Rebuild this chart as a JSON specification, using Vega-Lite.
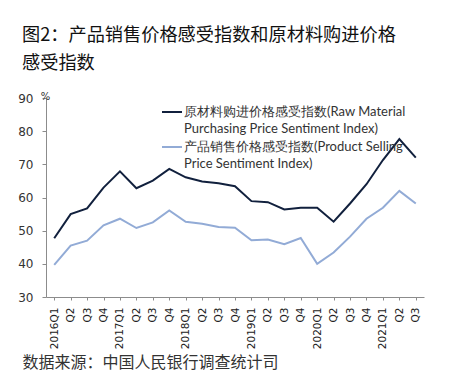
{
  "$schema": "https://vega.github.io/schema/vega-lite/v6.json",
  "width": 378,
  "height": 199,
  "autosize": {"type": "none"},
  "padding": {"left": 46, "top": 98, "right": 25, "bottom": 85},
  "background": "white",
  "title": {
    "text": ["图2：产品销售价格感受指数和原材料购进价格", "感受指数"],
    "anchor": "start",
    "frame": "group",
    "dx": -24,
    "offset": 18,
    "font": "Noto Sans CJK SC",
    "fontSize": 18.2,
    "fontWeight": "normal",
    "color": "#111111",
    "lineHeight": 28
  },
  "config": {
    "view": {"stroke": null},
    "axis": {"domainColor": "#8c8c8c", "tickColor": "#8c8c8c", "grid": false},
    "style": {"guide-label": {"lineHeight": 17}}
  },
  "data": {
    "values": [
      {"q": "2016Q1", "s": "原材料购进价格感受指数(Raw  Material|Purchasing Price Sentiment Index)", "v": 47.7},
      {"q": "2016Q2", "s": "原材料购进价格感受指数(Raw  Material|Purchasing Price Sentiment Index)", "v": 55.0},
      {"q": "2016Q3", "s": "原材料购进价格感受指数(Raw  Material|Purchasing Price Sentiment Index)", "v": 56.7},
      {"q": "2016Q4", "s": "原材料购进价格感受指数(Raw  Material|Purchasing Price Sentiment Index)", "v": 63.0},
      {"q": "2017Q1", "s": "原材料购进价格感受指数(Raw  Material|Purchasing Price Sentiment Index)", "v": 67.9},
      {"q": "2017Q2", "s": "原材料购进价格感受指数(Raw  Material|Purchasing Price Sentiment Index)", "v": 62.8},
      {"q": "2017Q3", "s": "原材料购进价格感受指数(Raw  Material|Purchasing Price Sentiment Index)", "v": 65.1},
      {"q": "2017Q4", "s": "原材料购进价格感受指数(Raw  Material|Purchasing Price Sentiment Index)", "v": 68.6},
      {"q": "2018Q1", "s": "原材料购进价格感受指数(Raw  Material|Purchasing Price Sentiment Index)", "v": 66.1},
      {"q": "2018Q2", "s": "原材料购进价格感受指数(Raw  Material|Purchasing Price Sentiment Index)", "v": 64.8},
      {"q": "2018Q3", "s": "原材料购进价格感受指数(Raw  Material|Purchasing Price Sentiment Index)", "v": 64.3},
      {"q": "2018Q4", "s": "原材料购进价格感受指数(Raw  Material|Purchasing Price Sentiment Index)", "v": 63.4},
      {"q": "2019Q1", "s": "原材料购进价格感受指数(Raw  Material|Purchasing Price Sentiment Index)", "v": 58.9},
      {"q": "2019Q2", "s": "原材料购进价格感受指数(Raw  Material|Purchasing Price Sentiment Index)", "v": 58.6},
      {"q": "2019Q3", "s": "原材料购进价格感受指数(Raw  Material|Purchasing Price Sentiment Index)", "v": 56.4},
      {"q": "2019Q4", "s": "原材料购进价格感受指数(Raw  Material|Purchasing Price Sentiment Index)", "v": 56.9},
      {"q": "2020Q1", "s": "原材料购进价格感受指数(Raw  Material|Purchasing Price Sentiment Index)", "v": 56.9},
      {"q": "2020Q2", "s": "原材料购进价格感受指数(Raw  Material|Purchasing Price Sentiment Index)", "v": 52.7},
      {"q": "2020Q3", "s": "原材料购进价格感受指数(Raw  Material|Purchasing Price Sentiment Index)", "v": 58.2},
      {"q": "2020Q4", "s": "原材料购进价格感受指数(Raw  Material|Purchasing Price Sentiment Index)", "v": 64.0},
      {"q": "2021Q1", "s": "原材料购进价格感受指数(Raw  Material|Purchasing Price Sentiment Index)", "v": 71.3},
      {"q": "2021Q2", "s": "原材料购进价格感受指数(Raw  Material|Purchasing Price Sentiment Index)", "v": 77.6},
      {"q": "2021Q3", "s": "原材料购进价格感受指数(Raw  Material|Purchasing Price Sentiment Index)", "v": 72.0},
      {"q": "2016Q1", "s": "产品销售价格感受指数(Product Selling|Price Sentiment Index)", "v": 39.7},
      {"q": "2016Q2", "s": "产品销售价格感受指数(Product Selling|Price Sentiment Index)", "v": 45.5},
      {"q": "2016Q3", "s": "产品销售价格感受指数(Product Selling|Price Sentiment Index)", "v": 47.0},
      {"q": "2016Q4", "s": "产品销售价格感受指数(Product Selling|Price Sentiment Index)", "v": 51.6},
      {"q": "2017Q1", "s": "产品销售价格感受指数(Product Selling|Price Sentiment Index)", "v": 53.6},
      {"q": "2017Q2", "s": "产品销售价格感受指数(Product Selling|Price Sentiment Index)", "v": 50.8},
      {"q": "2017Q3", "s": "产品销售价格感受指数(Product Selling|Price Sentiment Index)", "v": 52.5},
      {"q": "2017Q4", "s": "产品销售价格感受指数(Product Selling|Price Sentiment Index)", "v": 56.1},
      {"q": "2018Q1", "s": "产品销售价格感受指数(Product Selling|Price Sentiment Index)", "v": 52.7},
      {"q": "2018Q2", "s": "产品销售价格感受指数(Product Selling|Price Sentiment Index)", "v": 52.1},
      {"q": "2018Q3", "s": "产品销售价格感受指数(Product Selling|Price Sentiment Index)", "v": 51.1},
      {"q": "2018Q4", "s": "产品销售价格感受指数(Product Selling|Price Sentiment Index)", "v": 50.9},
      {"q": "2019Q1", "s": "产品销售价格感受指数(Product Selling|Price Sentiment Index)", "v": 47.1},
      {"q": "2019Q2", "s": "产品销售价格感受指数(Product Selling|Price Sentiment Index)", "v": 47.3},
      {"q": "2019Q3", "s": "产品销售价格感受指数(Product Selling|Price Sentiment Index)", "v": 45.9},
      {"q": "2019Q4", "s": "产品销售价格感受指数(Product Selling|Price Sentiment Index)", "v": 47.8},
      {"q": "2020Q1", "s": "产品销售价格感受指数(Product Selling|Price Sentiment Index)", "v": 40.0},
      {"q": "2020Q2", "s": "产品销售价格感受指数(Product Selling|Price Sentiment Index)", "v": 43.4},
      {"q": "2020Q3", "s": "产品销售价格感受指数(Product Selling|Price Sentiment Index)", "v": 48.2},
      {"q": "2020Q4", "s": "产品销售价格感受指数(Product Selling|Price Sentiment Index)", "v": 53.6},
      {"q": "2021Q1", "s": "产品销售价格感受指数(Product Selling|Price Sentiment Index)", "v": 56.9},
      {"q": "2021Q2", "s": "产品销售价格感受指数(Product Selling|Price Sentiment Index)", "v": 62.0},
      {"q": "2021Q3", "s": "产品销售价格感受指数(Product Selling|Price Sentiment Index)", "v": 58.2}
    ]
  },
  "mark": {"type": "line", "strokeWidth": 2},
  "encoding": {
    "x": {
      "field": "q",
      "type": "ordinal",
      "scale": {"padding": 0.5},
      "axis": {
        "labelExpr": "slice(datum.value, 4) == 'Q1' ? datum.value : slice(datum.value, 4)",
        "labelAngle": 270,
        "labelAlign": "right",
        "labelBaseline": "middle",
        "labelFont": "DejaVu Sans",
        "labelFontSize": 10.5,
        "labelColor": "#222222",
        "labelPadding": 7,
        "tickSize": 3,
        "title": "数据来源：中国人民银行调查统计司",
        "titleFont": "Noto Sans CJK SC",
        "titleFontSize": 16,
        "titleFontWeight": "normal",
        "titleColor": "#333333",
        "titleAngle": 0,
        "titleAlign": "left",
        "titleBaseline": "alphabetic",
        "titleX": -24,
        "titleY": 70
      }
    },
    "y": {
      "field": "v",
      "type": "quantitative",
      "scale": {"domain": [30, 90], "nice": false, "zero": false},
      "axis": {
        "values": [30, 40, 50, 60, 70, 80, 90],
        "labelFont": "DejaVu Sans",
        "labelFontSize": 12,
        "labelColor": "#333333",
        "labelPadding": 9,
        "tickSize": 4,
        "title": "%",
        "titleFont": "DejaVu Sans",
        "titleFontSize": 10,
        "titleFontWeight": "normal",
        "titleColor": "#333333",
        "titleAngle": 0,
        "titleAlign": "center",
        "titleBaseline": "middle",
        "titleX": -1,
        "titleY": -2
      }
    },
    "color": {
      "field": "s",
      "type": "nominal",
      "scale": {"domain": ["原材料购进价格感受指数(Raw  Material|Purchasing Price Sentiment Index)", "产品销售价格感受指数(Product Selling|Price Sentiment Index)"], "range": ["#11203d", "#92abd6"]},
      "legend": {
        "orient": "none",
        "legendX": 115,
        "legendY": 3,
        "title": null,
        "symbolType": "stroke",
        "symbolSize": 400,
        "symbolStrokeWidth": 2,
        "labelFont": "Lato",
        "labelFontSize": 13,
        "labelColor": "#333333",
        "labelLimit": 400,
        "labelOffset": 1,
        "rowPadding": 0,
        "labelExpr": "split(datum.label, '|')"
      }
    }
  }
}
